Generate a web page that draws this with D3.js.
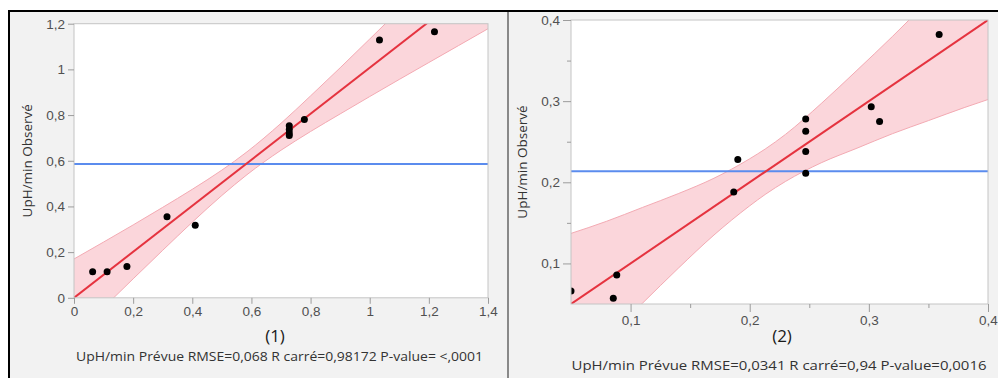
<!DOCTYPE html>
<html>
<head>
<meta charset="utf-8">
<script src="https://cdn.jsdelivr.net/npm/d3@7"></script>
<style>
  body { margin: 0; background: #fff; }
  svg { display: block; font-family: "Open Sans", "Noto Sans", sans-serif; }
</style>
</head>
<body>
<div id="chart"></div>
<script>
// ---- panneau (1) ----
const p1PredX = [0.063, 0.112, 0.179, 0.3145, 0.41, 0.728, 0.728, 0.728, 0.728, 0.779, 1.033, 1.219];
const p1ObsY  = [0.114, 0.114, 0.137, 0.355, 0.318, 0.753, 0.737, 0.722, 0.710, 0.781, 1.129, 1.165];
const p1Mean = 0.586;
const p1FitX = [0, 1.4];
const p1FitY = [0, 1.41];
const p1BandX  = [0, 0.1, 0.2, 0.3, 0.4, 0.5, 0.585, 0.7, 0.8, 0.9, 1.0, 1.1, 1.2, 1.3, 1.4];
const p1BandLo = [-0.170, -0.043, 0.083, 0.208, 0.331, 0.448, 0.539, 0.646, 0.728, 0.805, 0.881, 0.956, 1.030, 1.104, 1.178];
const p1BandHi = [0.170, 0.244, 0.319, 0.396, 0.475, 0.559, 0.639, 0.764, 0.884, 1.007, 1.133, 1.260, 1.386, 1.514, 1.642];
const p1XTicks = [0, 0.2, 0.4, 0.6, 0.8, 1, 1.2, 1.4];
const p1XTickLabels = ["0", "0,2", "0,4", "0,6", "0,8", "1", "1,2", "1,4"];
const p1YTicks = [0, 0.2, 0.4, 0.6, 0.8, 1, 1.2];
const p1YTickLabels = ["0", "0,2", "0,4", "0,6", "0,8", "1", "1,2"];
const p1Caption = "UpH/min Prévue RMSE=0,068 R carré=0,98172 P-value= <,0001";

// ---- panneau (2) ----
const p2PredX = [0.359, 0.302, 0.309, 0.247, 0.247, 0.247, 0.247, 0.190, 0.1866, 0.0884, 0.0855, 0.050];
const p2ObsY  = [0.382, 0.293, 0.275, 0.278, 0.263, 0.238, 0.211, 0.228, 0.188, 0.0857, 0.057, 0.066];
const p2Mean = 0.2135;
const p2FitX = [0.05, 0.4];
const p2FitY = [0.05, 0.4];
const p2BandX  = [0.05, 0.08, 0.11, 0.14, 0.17, 0.2, 0.213, 0.23, 0.26, 0.29, 0.32, 0.35, 0.38, 0.4];
const p2BandLo = [-0.037, 0.008, 0.051, 0.094, 0.135, 0.171, 0.185, 0.201, 0.224, 0.242, 0.260, 0.276, 0.292, 0.302];
const p2BandHi = [0.137, 0.152, 0.169, 0.186, 0.205, 0.229, 0.241, 0.259, 0.297, 0.338, 0.380, 0.424, 0.468, 0.498];
const p2XTicks = [0.1, 0.2, 0.3, 0.4];
const p2XTickLabels = ["0,1", "0,2", "0,3", "0,4"];
const p2YTicks = [0.1, 0.2, 0.3, 0.4];
const p2YTickLabels = ["0,1", "0,2", "0,3", "0,4"];
const p2MinorTicks = [0.15, 0.25, 0.35];
const p2Caption = "UpH/min Prévue RMSE=0,0341 R carré=0,94 P-value=0,0016";

const yLabel = "UpH/min Observé";

const W = 998, H = 378;

const svg = d3.select("#chart")
  .append("svg")
  .attr("width", W)
  .attr("height", H);

// fond gris des deux panneaux
svg.append("rect")
  .attr("x", 9).attr("y", 11)
  .attr("width", W - 9).attr("height", H - 11)
  .attr("fill", "#f2f2f2");

function drawPanel(cfg) {
  const x = d3.scaleLinear().domain(cfg.xDomain).range([cfg.left, cfg.right]);
  const y = d3.scaleLinear().domain(cfg.yDomain).range([cfg.bottom, cfg.top]);

  // zone de tracé blanche
  svg.append("rect")
    .attr("x", cfg.left).attr("y", cfg.top)
    .attr("width", cfg.right - cfg.left)
    .attr("height", cfg.bottom - cfg.top)
    .attr("fill", "#fff");

  svg.append("clipPath")
    .attr("id", cfg.id + "-clip")
    .append("rect")
    .attr("x", cfg.left).attr("y", cfg.top)
    .attr("width", cfg.right - cfg.left)
    .attr("height", cfg.bottom - cfg.top);

  const g = svg.append("g").attr("clip-path", `url(#${cfg.id}-clip)`);

  // bande de confiance
  const band = cfg.bandX.map((v, i) => ({ x: v, lo: cfg.bandLo[i], hi: cfg.bandHi[i] }));
  g.append("path")
    .datum(band)
    .attr("d", d3.area().x(d => x(d.x)).y0(d => y(d.lo)).y1(d => y(d.hi)).curve(d3.curveMonotoneX))
    .attr("fill", "#fbd6db");
  ["lo", "hi"].forEach(k => {
    g.append("path")
      .datum(band)
      .attr("d", d3.line().x(d => x(d.x)).y(d => y(d[k])).curve(d3.curveMonotoneX))
      .attr("fill", "none")
      .attr("stroke", "#f3aab3")
      .attr("stroke-width", 1);
  });

  // moyenne (ligne bleue)
  g.append("line")
    .attr("x1", x(cfg.xDomain[0])).attr("x2", x(cfg.xDomain[1]))
    .attr("y1", y(cfg.mean)).attr("y2", y(cfg.mean))
    .attr("stroke", "#5b8cee")
    .attr("stroke-width", 2);

  // droite d'ajustement
  g.append("line")
    .attr("x1", x(cfg.fitX[0])).attr("y1", y(cfg.fitY[0]))
    .attr("x2", x(cfg.fitX[1])).attr("y2", y(cfg.fitY[1]))
    .attr("stroke", "#e5333f")
    .attr("stroke-width", 2);

  // points
  g.selectAll("circle.pt")
    .data(cfg.px.map((v, i) => ({ x: v, y: cfg.py[i] })))
    .enter().append("circle")
    .attr("class", "pt")
    .attr("cx", d => x(d.x))
    .attr("cy", d => y(d.y))
    .attr("r", 3.5)
    .attr("fill", "#000");

  // cadre
  svg.append("rect")
    .attr("x", cfg.left).attr("y", cfg.top)
    .attr("width", cfg.right - cfg.left)
    .attr("height", cfg.bottom - cfg.top)
    .attr("fill", "none")
    .attr("stroke", "#c4c4c4")
    .attr("stroke-width", 1);

  // axes
  const xAxis = svg.append("g")
    .attr("transform", `translate(0,${cfg.bottom})`)
    .call(d3.axisBottom(x).tickValues(cfg.xTicks).tickFormat((d, i) => cfg.xTickLabels[i]).tickSize(cfg.tickLen).tickPadding(3));
  const yAxis = svg.append("g")
    .attr("transform", `translate(${cfg.left},0)`)
    .call(d3.axisLeft(y).tickValues(cfg.yTicks).tickFormat((d, i) => cfg.yTickLabels[i]).tickSize(cfg.tickLen).tickPadding(3));

  if (cfg.minor) {
    svg.append("g")
      .attr("transform", `translate(0,${cfg.bottom})`)
      .call(d3.axisBottom(x).tickValues(cfg.minor).tickFormat("").tickSize(4));
    svg.append("g")
      .attr("transform", `translate(${cfg.left},0)`)
      .call(d3.axisLeft(y).tickValues(cfg.minor).tickFormat("").tickSize(4));
  }

  svg.selectAll(".domain").remove();
  svg.selectAll(".tick line").attr("stroke", "#9c9c9c");
  [xAxis, yAxis].forEach(a => a.selectAll("text")
    .attr("fill", "#505050")
    .style("font-size", "13.5px"));

  // titre de l'axe Y
  svg.append("text")
    .attr("transform", `translate(${cfg.yLabelX},${(cfg.top + cfg.bottom) / 2}) rotate(-90)`)
    .attr("text-anchor", "middle")
    .attr("dominant-baseline", "central")
    .attr("fill", "#333")
    .style("font-size", "13.5px")
    .text(yLabel);

  // numéro du panneau
  svg.append("text")
    .attr("x", cfg.numX).attr("y", 335)
    .attr("text-anchor", "middle")
    .attr("dominant-baseline", "central")
    .attr("fill", "#1a1a1a")
    .style("font-size", "17px")
    .text(cfg.num);

  // légende de l'axe X
  svg.append("text")
    .attr("x", cfg.capX).attr("y", cfg.capY)
    .attr("text-anchor", "middle")
    .attr("dominant-baseline", "central")
    .attr("fill", "#333")
    .attr("textLength", cfg.capW)
    .attr("lengthAdjust", "spacingAndGlyphs")
    .style("font-size", "13px")
    .text(cfg.caption);
}

drawPanel({
  id: "p1", left: 74, right: 488, top: 23.7, bottom: 297.8,
  xDomain: [0, 1.4], yDomain: [0, 1.2],
  px: p1PredX, py: p1ObsY, mean: p1Mean, fitX: p1FitX, fitY: p1FitY,
  bandX: p1BandX, bandLo: p1BandLo, bandHi: p1BandHi,
  xTicks: p1XTicks, xTickLabels: p1XTickLabels,
  yTicks: p1YTicks, yTickLabels: p1YTickLabels,
  tickLen: 6, minor: null,
  yLabelX: 27, num: "(1)", numX: 275,
  caption: p1Caption, capX: 279.5, capY: 356, capW: 407
});

drawPanel({
  id: "p2", left: 571, right: 988, top: 20, bottom: 304,
  xDomain: [0.05, 0.4], yDomain: [0.05, 0.4],
  px: p2PredX, py: p2ObsY, mean: p2Mean, fitX: p2FitX, fitY: p2FitY,
  bandX: p2BandX, bandLo: p2BandLo, bandHi: p2BandHi,
  xTicks: p2XTicks, xTickLabels: p2XTickLabels,
  yTicks: p2YTicks, yTickLabels: p2YTickLabels,
  tickLen: 8, minor: p2MinorTicks,
  yLabelX: 522, num: "(2)", numX: 782,
  caption: p2Caption, capX: 779, capY: 365, capW: 415
});

// séparateur et bordures
svg.append("line")
  .attr("x1", 508).attr("x2", 508)
  .attr("y1", 11).attr("y2", H)
  .attr("stroke", "#666")
  .attr("stroke-width", 1.5);

svg.append("line")
  .attr("x1", 8).attr("x2", W)
  .attr("y1", 11).attr("y2", 11)
  .attr("stroke", "#000")
  .attr("stroke-width", 2);

svg.append("line")
  .attr("x1", 9).attr("x2", 9)
  .attr("y1", 10).attr("y2", H)
  .attr("stroke", "#000")
  .attr("stroke-width", 2);
</script>
</body>
</html>
